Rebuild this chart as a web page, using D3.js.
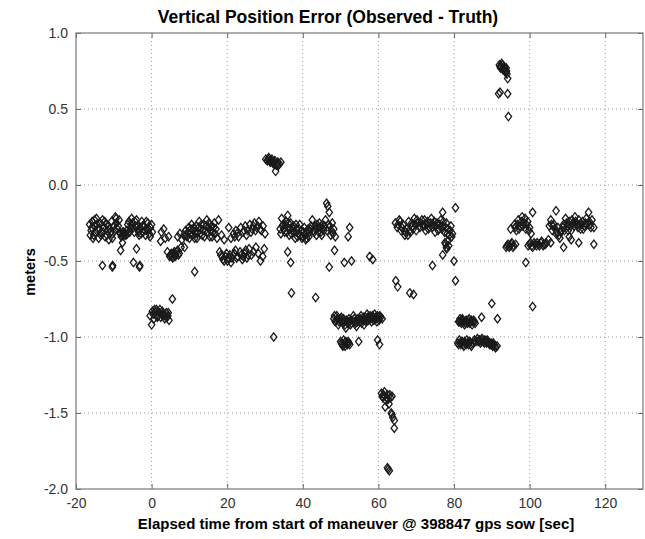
<!DOCTYPE html>
<html lang="en">
<head>
  <meta charset="UTF-8">
  <title>Vertical Position Error</title>
  <style>
    body { margin: 0; background: #fff; }
    svg { display: block; font-family: "Liberation Sans", Arial, sans-serif; }
    .grid line { stroke: #999; stroke-dasharray: 1,3; }
    .tick text { fill: #333; font-size: 14px; }
  </style>
</head>
<body>
<div id="chart"></div>
<script src="https://d3js.org/d3.v7.min.js"></script>
<script>
  // [time, error] pairs, grouped by cluster
  const segA = [[-16.4,-0.26],[-16,-0.3],[-15.7,-0.24],[-15.3,-0.33],[-15,-0.27],[-14.6,-0.22],[-14.3,-0.29],[-14,-0.35],[-13.6,-0.25],[-13.3,-0.31],[-13,-0.23],[-12.6,-0.28],[-12.3,-0.34],[-12,-0.26],[-11.6,-0.3],[-11.3,-0.36],[-11,-0.29],[-10.6,-0.24],[-10.3,-0.32],[-10,-0.27],[-9.6,-0.21],[-9.3,-0.25],[-9,-0.29],[-8.6,-0.23],[-8.3,-0.32],[-8,-0.34],[-7.6,-0.31],[-7.3,-0.33],[-7,-0.32],[-6.6,-0.3],[-6.3,-0.26],[-6,-0.24],[-5.6,-0.28],[-5.3,-0.22],[-5,-0.25],[-4.6,-0.31],[-4.3,-0.27],[-4,-0.23],[-3.6,-0.3],[-3.3,-0.33],[-3,-0.28],[-2.6,-0.24],[-2.3,-0.31],[-2,-0.27],[-1.6,-0.33],[-1.3,-0.29],[-1,-0.25],[-0.6,-0.32],[-0.3,-0.28],[0.2,-0.31],
    [-13,-0.53],[-10.4,-0.54],[-10.3,-0.53],[-8.2,-0.43],[-7.7,-0.38],[-4,-0.42],[-4.8,-0.51],[-3.2,-0.54],[-3.1,-0.53]];
  const segA2 = [[-16.2,-0.33],[-15.8,-0.28],[-15.5,-0.35],[-15.1,-0.23],[-14.8,-0.31],[-14.4,-0.26],[-13.8,-0.29],[-13.4,-0.33],[-12.8,-0.31],[-12.4,-0.24],[-11.8,-0.33],[-11.4,-0.27],[-10.8,-0.31],[-10.4,-0.35],[-9.8,-0.3],[-9.4,-0.22],[-8.8,-0.27],[-8.4,-0.31],[-7.8,-0.33],[-7.4,-0.31],[-6.8,-0.33],[-6.4,-0.32],[-5.8,-0.31],[-5.4,-0.26],[-4.8,-0.28],[-4.4,-0.24],[-3.8,-0.27],[-3.4,-0.31],[-2.8,-0.32],[-2.4,-0.27],[-1.8,-0.3],[-1.4,-0.24],[-0.8,-0.29],[-0.4,-0.34],[0,-0.26]];
  const segB = [[-0.4,-0.86],[0,-0.92],[0.2,-0.83],[0.6,-0.88],[1,-0.84],[1.3,-0.82],[1.7,-0.86],[2,-0.84],[2.4,-0.87],[2.8,-0.83],[3.1,-0.85],[3.5,-0.88],[3.9,-0.84],[4.3,-0.86],[4.6,-0.89],[5.5,-0.75],
    [0.4,-0.85],[0.8,-0.82],[1.5,-0.87],[2.2,-0.82],[2.6,-0.85],[3.3,-0.86],[4.1,-0.87],[4.4,-0.84]];
  const segC = [[2.4,-0.37],[2.6,-0.31],[3.2,-0.29],[3.6,-0.35],[4.5,-0.34],[4.2,-0.44],[4.8,-0.47],[5.2,-0.45],[5.6,-0.48],[6,-0.44],[6.4,-0.46],[6.9,-0.43],[7.3,-0.45],[7.8,-0.41],[6.9,-0.34],[7.5,-0.32],[8,-0.36],[8.5,-0.33],[8.7,-0.41],[9,-0.3],[9.4,-0.34],[9.8,-0.28],[10.2,-0.32],[10.6,-0.26],[11,-0.3],[11.4,-0.35],[11.8,-0.27],[12.2,-0.31],[12.6,-0.24],[13,-0.29],[13.4,-0.33],[13.8,-0.26],[14.2,-0.3],[14.6,-0.23],[15,-0.28],[15.4,-0.34],[15.8,-0.27],[16.2,-0.31],[16.6,-0.25],[17,-0.29],[17.3,-0.35],[11.4,-0.57],[17.7,-0.23]];
  const segC2 = [[5,-0.46],[5.4,-0.47],[5.8,-0.45],[6.2,-0.47],[6.6,-0.44],[7.1,-0.46],[9.2,-0.33],[9.6,-0.31],[10,-0.35],[10.4,-0.29],[10.8,-0.33],[11.2,-0.28],[11.6,-0.32],[12,-0.35],[12.4,-0.28],[12.8,-0.32],[13.2,-0.26],[13.6,-0.3],[14,-0.34],[14.4,-0.27],[14.8,-0.31],[15.2,-0.25],[15.6,-0.3],[16,-0.34],[16.4,-0.28],[16.8,-0.32]];
  const segD = [[18.5,-0.33],[19.2,-0.36],[20.4,-0.28],[21,-0.35],[21.7,-0.32],[22.3,-0.3],[23,-0.34],[23.6,-0.28],[24.2,-0.31],[24.8,-0.27],[25.4,-0.3],[26,-0.26],[26.6,-0.29],[27.2,-0.25],[27.8,-0.28],[28.4,-0.24],[29,-0.3],[29.5,-0.27],[30,-0.32],
    [18,-0.44],[18.6,-0.47],[19.2,-0.5],[19.8,-0.45],[20.4,-0.48],[21,-0.51],[21.6,-0.46],[22.2,-0.43],[22.8,-0.47],[23.4,-0.44],[24,-0.49],[24.6,-0.45],[25.2,-0.48],[25.8,-0.42],[26.4,-0.46],[27,-0.44],[27.6,-0.41],[28.2,-0.45],[28.8,-0.5],[29.4,-0.47],[29.8,-0.42]];
  const segD2 = [[18.3,-0.46],[18.9,-0.49],[19.5,-0.47],[20.1,-0.5],[20.7,-0.46],[21.3,-0.48],[21.9,-0.45],[22.5,-0.48],[23.7,-0.46],[24.3,-0.47],[24.9,-0.43],[25.5,-0.46],[22,-0.34],[22.6,-0.32],[24.5,-0.3],[25.1,-0.33],[26.3,-0.31],[26.9,-0.27],[27.5,-0.3],[28.1,-0.27],[28.7,-0.29]];
  const segE = [[30.2,0.17],[30.6,0.16],[31,0.18],[31.4,0.15],[31.8,0.17],[32.2,0.14],[32.6,0.16],[32.8,0.09],[33,0.13],[33.4,0.15],[33.8,0.14],[34.2,0.15],[32.3,-1.0],
    [30.8,0.17],[31.2,0.16],[31.6,0.16],[32,0.15],[32.4,0.15],[33.2,0.14],[33.6,0.13]];
  const segF = [[34,-0.29],[34.4,-0.22],[34.8,-0.26],[35.2,-0.31],[35.6,-0.24],[36,-0.28],[36.4,-0.33],[36.8,-0.25],[37.2,-0.3],[37.6,-0.27],[38,-0.35],[38.4,-0.29],[38.8,-0.32],[39.2,-0.26],[39.6,-0.3],[40,-0.34],[40.4,-0.28],[40.8,-0.36],[41.2,-0.31],[41.6,-0.34],[42,-0.29],[42.5,-0.23],[42.8,-0.3],[43.2,-0.27],[43.6,-0.33],[44,-0.28],[44.4,-0.25],[44.8,-0.31],[45.2,-0.26],[45.6,-0.3],[46,-0.23],[46.3,-0.12],[46.6,-0.14],[47,-0.18],[47.2,-0.27],[47.4,-0.33],[47.8,-0.25],[48.2,-0.29],[48.6,-0.34],[36,-0.2],
    [36,-0.44],[36.8,-0.51],[37,-0.71],[43.4,-0.74],[47,-0.54],[48.4,-0.43],[51,-0.51],[52.9,-0.5],[52.4,-0.28],[52,-0.34],[57.7,-0.47],[58.5,-0.49]];
  const segF2 = [[34.2,-0.32],[34.6,-0.27],[35,-0.29],[35.4,-0.26],[35.8,-0.31],[36.2,-0.25],[36.6,-0.29],[37,-0.32],[37.4,-0.28],[37.8,-0.31],[38.2,-0.26],[38.6,-0.34],[39,-0.29],[39.4,-0.33],[39.8,-0.35],[40.2,-0.31],[40.6,-0.33],[41,-0.35],[41.4,-0.29],[41.8,-0.31],[42.2,-0.27],[43,-0.31],[43.4,-0.29],[43.8,-0.26],[44.2,-0.31],[44.6,-0.28],[45,-0.33],[45.4,-0.29],[45.8,-0.27],[46.4,-0.3],[46.8,-0.26],[47.6,-0.3],[48,-0.32]];
  const segG = [[48.2,-0.88],[48.6,-0.9],[49,-0.86],[49.4,-0.92],[49.8,-0.89],[50.2,-0.87],[50.6,-0.91],[51,-0.9],[51.4,-0.94],[51.8,-0.91],[52.2,-0.88],[52.6,-0.92],[53,-0.89],[53.4,-0.86],[53.8,-0.9],[54.2,-0.93],[54.6,-0.88],[55,-0.9],[55.4,-0.86],[55.8,-0.89],[56.2,-0.92],[56.6,-0.87],[57,-0.85],[57.4,-0.89],[57.8,-0.86],[58.2,-0.9],[58.6,-0.87],[59,-0.85],[59.4,-0.88],[59.8,-0.86],[60.2,-0.89],[60.6,-0.87],[61,-0.88],
    [50,-1.03],[50.4,-1.05],[50.8,-1.02],[51.2,-1.06],[51.6,-1.04],[52,-1.03],[52.4,-1.05],[54.8,-1.03],[59.8,-1.02],[60.3,-1.05]];
  const segG2 = [[48.4,-0.86],[48.8,-0.89],[49.2,-0.88],[49.6,-0.9],[50,-0.88],[50.4,-0.9],[50.8,-0.88],[51.2,-0.92],[51.6,-0.89],[52,-0.9],[52.4,-0.9],[52.8,-0.91],[53.6,-0.88],[54,-0.91],[54.4,-0.9],[55.2,-0.88],[55.6,-0.91],[56,-0.87],[56.4,-0.89],[56.8,-0.9],[57.2,-0.87],[57.6,-0.88],[58,-0.88],[58.4,-0.86],[58.8,-0.89],[59.2,-0.87],[59.6,-0.9],[60,-0.87],[60.4,-0.86],[50.2,-1.04],[50.6,-1.06],[51,-1.04],[51.4,-1.03],[51.8,-1.05],[52.2,-1.04]];
  const segH = [[60.8,-1.37],[61.2,-1.4],[61.6,-1.36],[62,-1.42],[62.4,-1.38],[62.8,-1.44],[63.2,-1.4],[63.6,-1.39],[61.8,-1.46],[63.4,-1.5],[63.8,-1.53],[64.2,-1.55],[64.2,-1.6],[62.4,-1.86],[62.9,-1.88],
    [61,-1.39],[61.4,-1.38],[62.2,-1.4],[62.6,-1.41],[63,-1.38],[63.6,-1.51],[62.6,-1.87]];
  const segI = [[64.5,-0.25],[65,-0.28],[65.5,-0.23],[66,-0.3],[66.5,-0.26],[67,-0.33],[67.5,-0.29],[68,-0.24],[68.5,-0.31],[69,-0.27],[69.5,-0.22],[70,-0.3],[70.5,-0.25],[71,-0.28],[71.5,-0.23],[72,-0.27],[72.5,-0.3],[73,-0.24],[73.5,-0.28],[74,-0.22],[74.5,-0.26],[75,-0.31],[75.5,-0.25],[76,-0.29],[76.5,-0.23],[77,-0.27],[77.5,-0.31],[78,-0.25],[78.4,-0.29],[78.8,-0.33],[79.2,-0.27],[79.6,-0.32],
    [77.6,-0.38],[78,-0.41],[78.3,-0.37],[78.6,-0.4],
    [77,-0.18],[80.4,-0.15],[74.3,-0.53],[77,-0.46],[80,-0.5],[80.4,-0.63],[64.6,-0.63],[65.1,-0.67],[68.3,-0.71],[69.3,-0.72]];
  const segI2 = [[65.2,-0.26],[65.8,-0.24],[66.2,-0.28],[66.8,-0.3],[67.2,-0.31],[67.8,-0.33],[68.2,-0.3],[68.8,-0.25],[69.2,-0.29],[69.8,-0.26],[70.2,-0.23],[70.8,-0.27],[71.2,-0.25],[71.8,-0.26],[72.2,-0.23],[72.8,-0.26],[73.2,-0.29],[73.8,-0.25],[74.2,-0.28],[74.8,-0.24],[75.2,-0.27],[75.8,-0.3],[76.2,-0.26],[76.8,-0.29],[77.2,-0.24],[77.8,-0.28],[78.2,-0.32],[79,-0.3],[79.4,-0.34],[77.8,-0.39],[78.1,-0.42]];
  const segJ = [[81.2,-0.9],[81.6,-0.88],[82,-0.91],[82.4,-0.89],[82.8,-0.92],[83.2,-0.89],[83.6,-0.91],[84,-0.88],[84.4,-0.9],[84.8,-0.92],[85.2,-0.89],[85.6,-0.91],[87.3,-0.87],[90,-0.78],[91.5,-0.88],
    [81,-1.04],[81.4,-1.02],[81.8,-1.05],[82.2,-1.03],[82.6,-1.06],[83,-1.04],[83.4,-1.02],[83.8,-1.05],[84.2,-1.03],[84.6,-1.06],[85,-1.04],[85.4,-1.02],[85.8,-1.03],[86.2,-1.01],[86.6,-1.02],[87,-1.04],[87.4,-1.01],[87.8,-1.03],[88.2,-1.02],[88.6,-1.04],[89,-1.03],[89.4,-1.05],[89.8,-1.04],[90.2,-1.06],[90.6,-1.05],[91,-1.07],[91.4,-1.06]];
  const segJ2 = [[81.4,-0.9],[81.8,-0.9],[82.2,-0.88],[82.6,-0.9],[83,-0.91],[83.4,-0.9],[83.8,-0.89],[84.2,-0.91],[84.6,-0.89],[85,-0.9],[85.4,-0.9],[81.2,-1.05],[81.6,-1.04],[82,-1.03],[82.4,-1.05],[82.8,-1.03],[83.2,-1.05],[83.6,-1.04],[84,-1.03],[84.4,-1.05],[86.4,-1.03],[86.8,-1.02],[87.2,-1.03],[87.6,-1.02],[88,-1.04],[88.4,-1.03],[88.8,-1.02],[89.2,-1.04],[89.6,-1.05],[90,-1.05],[90.4,-1.04],[90.8,-1.06]];
  const segK = [[92,0.79],[92.3,0.77],[92.6,0.8],[92.9,0.76],[93.2,0.78],[93.5,0.75],[93.8,0.77],[94,0.73],[94.2,0.7],[91.8,0.6],[92.2,0.61],[94.2,0.6],[94.4,0.45],
    [92.2,0.78],[92.5,0.78],[92.8,0.79],[93.1,0.76],[93.4,0.77],[93.7,0.74],[93.9,0.75]];
  const segL = [[95,-0.29],[96,-0.26],[96.5,-0.3],[97,-0.23],[97.5,-0.27],[98,-0.21],[98.5,-0.25],[99,-0.29],[99.5,-0.24],[100,-0.28],[100.4,-0.32],[100.8,-0.18],
    [93.8,-0.41],[94.3,-0.39],[94.8,-0.4],[95.3,-0.38],[95.8,-0.4],[96.3,-0.39],
    [99.6,-0.4],[100.2,-0.38],[100.8,-0.41],[101.4,-0.39],[102,-0.38],[102.6,-0.4],[103.2,-0.37],[103.8,-0.39],[104.4,-0.38],[105,-0.36],[105.6,-0.38],[109,-0.41],[99,-0.51],[100.8,-0.8],
    [105.2,-0.27],[105.6,-0.23],[106,-0.3],[106.5,-0.26],[107,-0.17],[107,-0.32],[107.5,-0.28],[108,-0.35],[108.5,-0.3],[109,-0.26],[109.5,-0.22],[110,-0.27],[110.5,-0.24],[111,-0.3],[111.5,-0.25],[112,-0.21],[112.5,-0.26],[113,-0.23],[113.5,-0.29],[114,-0.24],[114.5,-0.27],[115,-0.22],[115.6,-0.18],[116,-0.26],[116.5,-0.23],[117,-0.28],[113,-0.38],[117,-0.39],[110.5,-0.34],[111,-0.36]];
  const segL2 = [[96.2,-0.28],[96.8,-0.26],[97.2,-0.29],[97.8,-0.24],[98.2,-0.27],[98.8,-0.22],[99.2,-0.26],[99.8,-0.3],[94,-0.4],[94.6,-0.41],[95.1,-0.39],[95.6,-0.41],[100,-0.39],[100.6,-0.4],[101.2,-0.38],[101.8,-0.4],[102.4,-0.39],[103,-0.38],[103.6,-0.4],[104.2,-0.39],[105.8,-0.26],[106.2,-0.27],[106.8,-0.29],[107.2,-0.31],[107.8,-0.33],[108.2,-0.31],[108.8,-0.28],[109.2,-0.3],[109.8,-0.25],[110.2,-0.3],[110.8,-0.27],[111.2,-0.23],[111.8,-0.27],[112.2,-0.24],[112.8,-0.28],[113.2,-0.26],[113.8,-0.26],[114.2,-0.29],[114.8,-0.25],[115.2,-0.26],[115.8,-0.24],[116.2,-0.28]];

  const xTicks = [-20, 0, 20, 40, 60, 80, 100, 120];
  const yTicks = [1.0, 0.5, 0.0, -0.5, -1.0, -1.5, -2.0];

  const points = [].concat(segA, segA2, segB, segC, segC2, segD, segD2, segE, segF, segF2,
    segG, segG2, segH, segI, segI2, segJ, segJ2, segK, segL, segL2);

  const width = 645, height = 539;
  const margin = { top: 33, right: 2, bottom: 50, left: 76 };
  const iw = width - margin.left - margin.right;
  const ih = height - margin.top - margin.bottom;

  const svg = d3.select('#chart').append('svg')
    .attr('width', width)
    .attr('height', height);

  const g = svg.append('g')
    .attr('transform', `translate(${margin.left},${margin.top})`);

  const x = d3.scaleLinear().domain([-20, 130]).range([0, iw]);
  const y = d3.scaleLinear().domain([-2, 1]).range([ih, 0]);

  // plain hyphen for negatives, like the original plot
  const fx = d => d3.format('d')(d).replace('\u2212', '-');
  const fy = d => d3.format('.1f')(d).replace('\u2212', '-');

  // dotted grid
  g.append('g').attr('class', 'grid')
    .selectAll('line').data(xTicks.slice(1)).join('line')
    .attr('x1', d => x(d)).attr('x2', d => x(d))
    .attr('y1', 0).attr('y2', ih);
  g.append('g').attr('class', 'grid')
    .selectAll('line').data(yTicks.slice(1, -1)).join('line')
    .attr('x1', 0).attr('x2', iw)
    .attr('y1', d => y(d)).attr('y2', d => y(d));

  // axes with inward ticks
  g.append('g')
    .attr('transform', `translate(0,${ih})`)
    .call(d3.axisBottom(x).tickValues(xTicks).tickSize(-5).tickPadding(9).tickFormat(fx));
  const yAxis = g.append('g')
    .call(d3.axisLeft(y).tickValues(yTicks).tickSize(-5).tickPadding(8).tickFormat(fy));
  g.append('g')
    .call(d3.axisTop(x).tickValues(xTicks).tickSize(-5).tickFormat(''));
  g.append('g')
    .attr('transform', `translate(${iw},0)`)
    .call(d3.axisRight(y).tickValues(yTicks).tickSize(-5).tickFormat(''));

  g.selectAll('.domain').remove();
  g.selectAll('.tick line').attr('stroke', '#666');
  yAxis.selectAll('.tick text').attr('dy', '0.32em');

  g.append('rect')
    .attr('width', iw).attr('height', ih)
    .attr('fill', 'none').attr('stroke', '#777').attr('stroke-width', 1.2);

  // diamond markers
  const diamond = 'M0,-4.2L3.2,0L0,4.2L-3.2,0Z';
  g.append('g')
    .selectAll('path').data(points).join('path')
    .attr('d', diamond)
    .attr('transform', d => `translate(${x(d[0])},${y(d[1])})`)
    .attr('fill', 'none')
    .attr('stroke', '#1a1a1a')
    .attr('stroke-width', 1.3);

  // titles
  svg.append('text')
    .attr('x', 328).attr('y', 23)
    .attr('text-anchor', 'middle')
    .style('font-size', '17.5px').style('font-weight', 'bold')
    .text('Vertical Position Error (Observed - Truth)');

  svg.append('text')
    .attr('x', 356).attr('y', 529)
    .attr('text-anchor', 'middle')
    .style('font-size', '15px').style('font-weight', 'bold')
    .text('Elapsed time from start of maneuver @ 398847 gps sow [sec]');

  svg.append('text')
    .attr('transform', 'translate(35,272) rotate(-90)')
    .attr('text-anchor', 'middle')
    .style('font-size', '14.5px').style('font-weight', 'bold')
    .text('meters');
</script>
</body>
</html>
